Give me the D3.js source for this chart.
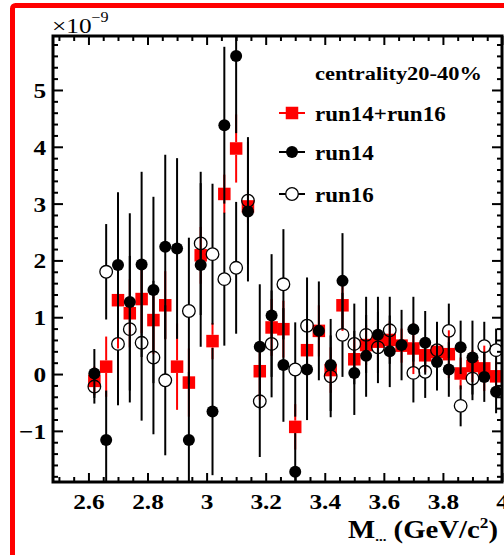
<!DOCTYPE html>
<html>
<head>
<meta charset="utf-8">
<script src="https://cdn.jsdelivr.net/npm/d3@7"></script>
<style>
  body { margin: 0; background: #fff; }
  text { font-family: "Liberation Serif", "Times New Roman", serif; }
</style>
</head>
<body>
<svg id="chart" width="504" height="555"></svg>
<script>
// Invariant-mass bins (GeV/c^2), bin width 0.04
const mass = [2.62, 2.66, 2.70, 2.74, 2.78, 2.82, 2.86, 2.90, 2.94, 2.98,
              3.02, 3.06, 3.10, 3.14, 3.18, 3.22, 3.26, 3.30, 3.34, 3.38,
              3.42, 3.46, 3.50, 3.54, 3.58, 3.62, 3.66, 3.70, 3.74, 3.78,
              3.82, 3.86, 3.90, 3.94, 3.98];

// run14+run16 combined (units of 1e-9)
const comboVal = [-0.12, 0.13, 1.30, 1.07, 1.32, 0.95, 1.21, 0.13, -0.15, 2.09,
                  0.58, 3.17, 3.97, 2.95, 0.05, 0.82, 0.79, -0.93, 0.42, 0.76,
                  0.07, 1.21, 0.26, 0.51, 0.57, 0.60, 0.50, 0.45, 0.33, 0.39,
                  0.35, 0.01, 0.14, 0.10, -0.04];
const comboErr = [0.25, 0.53, 0.85, 0.60, 0.60, 0.60, 0.60, 0.76, 0.60, 0.50,
                  0.32, 0.34, 0.60, 0.30, 0.50, 0.50, 0.50, 0.40, 0.45, 0.45,
                  0.40, 0.45, 0.35, 0.35, 0.33, 0.33, 0.30, 0.45, 0.30, 0.30,
                  0.42, 0.28, 0.28, 0.40, 0.28];

// run14
const run14Val = [0.01, -1.16, 1.92, 1.27, 1.93, 1.48, 2.24, 2.21, -1.16, 1.92,
                  -0.66, 4.38, 5.60, 2.86, 0.48, 1.03, 0.16, -1.72, 0.08, 0.76,
                  0.16, 1.64, 0.02, 0.32, 0.69, 0.40, 0.51, 0.79, 0.55, 0.21,
                  0.08, 0.47, 0.29, -0.05, -0.31];
const run14Err = [0.43, 0.87, 1.28, 1.56, 1.63, 1.64, 1.62, 1.59, 1.20, 1.44,
                  1.12, 1.38, 1.36, 1.23, 1.10, 1.08, 1.00, 0.68, 0.89, 0.87,
                  0.81, 0.84, 0.74, 0.72, 0.67, 0.63, 0.62, 0.57, 0.56, 0.50,
                  0.48, 0.47, 0.65, 0.44, 0.38];

// run16 (null where the point sits under the run14 marker)
const run16Val = [-0.22, 1.80, 0.53, 0.79, 0.55, 0.29, -0.11, null, 1.11, 2.30,
                  2.11, 1.67, 1.87, 3.05, -0.48, 0.53, 1.58, 0.08, 0.85, null,
                  -0.04, 0.69, 0.53, 0.69, 0.47, 0.77, null, 0.02, 0.04, 0.42,
                  0.76, -0.56, -0.08, 0.49, 0.42];
const run16Err = [0.30, 0.84, 1.08, 1.29, 1.37, 1.35, 1.32, null, 1.29, 1.26,
                  1.24, 1.17, 1.16, 1.12, 0.98, 0.94, 0.97, 0.83, 0.85, null,
                  0.72, 0.74, 0.71, 0.67, 0.63, 0.59, null, 0.52, 0.46, 0.50,
                  0.48, 0.36, 0.38, 0.43, 0.38];

const xTickValues = [2.6, 2.8, 3.0, 3.2, 3.4, 3.6, 3.8, 4.0];
const yTickValues = [-1, 0, 1, 2, 3, 4, 5];
const legendTitle = "centrality20-40%";
const legendLabels = ["run14+run16", "run14", "run16"];

const svg = d3.select("#chart");
const SX = 1.15; // horizontal text stretch

// outer red frame
svg.append("rect")
  .attr("x", 12.5).attr("y", 5.5).attr("width", 620).attr("height", 620).attr("rx", 3)
  .attr("fill", "#fff").attr("stroke", "#ff0000").attr("stroke-width", 5);

const L = 53, R = 502, T = 36, B = 482;
const x = d3.scaleLinear().domain([2.48, 4.0]).range([L, R]);
const y = d3.scaleLinear().domain([-1.9, 5.95]).range([B, T]);

const xMinor = d3.range(2.50, 4.0001, 0.05).filter(v => Math.abs(Math.round(v * 5) - v * 5) > 1e-6);
const yMinor = d3.range(-1.8, 5.9, 0.2).filter(v => Math.abs(Math.round(v) - v) > 1e-6);

function styleAxis(g) {
  g.select(".domain").remove();
  g.selectAll(".tick line").attr("stroke", "#000").attr("stroke-width", 2);
}

// minor ticks on all four sides
svg.append("g").attr("transform", `translate(0,${B})`)
  .call(d3.axisBottom(x).tickValues(xMinor).tickSize(-5).tickFormat(""))
  .call(styleAxis);
svg.append("g").attr("transform", `translate(0,${T})`)
  .call(d3.axisTop(x).tickValues(xMinor).tickSize(-5).tickFormat(""))
  .call(styleAxis);
svg.append("g").attr("transform", `translate(${L},0)`)
  .call(d3.axisLeft(y).tickValues(yMinor).tickSize(-5).tickFormat(""))
  .call(styleAxis);
svg.append("g").attr("transform", `translate(${R},0)`)
  .call(d3.axisRight(y).tickValues(yMinor).tickSize(-5).tickFormat(""))
  .call(styleAxis);

// major ticks
const fmtX = d => (Math.round(d * 10) / 10).toString();
const gx = svg.append("g").attr("transform", `translate(0,${B})`)
  .call(d3.axisBottom(x).tickValues(xTickValues).tickSize(-9).tickPadding(11).tickFormat(fmtX))
  .call(styleAxis);
gx.selectAll(".tick text")
  .attr("font-size", 22).attr("font-weight", "bold").attr("fill", "#000")
  .attr("font-family", "Liberation Serif")
  .attr("transform", `scale(${SX},1)`);
svg.append("g").attr("transform", `translate(0,${T})`)
  .call(d3.axisTop(x).tickValues(xTickValues).tickSize(-9).tickFormat(""))
  .call(styleAxis);

const fmtY = d => d < 0 ? "\u2212" + Math.abs(d) : String(d);
const gy = svg.append("g").attr("transform", `translate(${L},0)`)
  .call(d3.axisLeft(y).tickValues(yTickValues).tickSize(-10).tickPadding(6).tickFormat(fmtY))
  .call(styleAxis);
gy.selectAll(".tick text")
  .attr("font-size", 22).attr("font-weight", "bold").attr("fill", "#000")
  .attr("font-family", "Liberation Serif")
  .attr("dy", "0.34em")
  .attr("transform", `scale(${SX},1)`);
svg.append("g").attr("transform", `translate(${R},0)`)
  .call(d3.axisRight(y).tickValues(yTickValues).tickSize(-10).tickFormat(""))
  .call(styleAxis);

// plot clip
svg.append("defs").append("clipPath").attr("id", "plotClip")
  .append("rect").attr("x", L).attr("y", T).attr("width", R - L).attr("height", B - T);
const plot = svg.append("g").attr("clip-path", "url(#plotClip)");

// error bars leave a gap where the point's own marker sits
function errorBars(g, vals, errs, color, width, gap) {
  mass.forEach((m, i) => {
    const v = vals[i];
    if (v === null) return;
    const e = errs[i];
    const cx = x(m), cy = y(v), top = y(v + e), bot = y(v - e);
    if (cy - gap > top)
      g.append("line").attr("x1", cx).attr("x2", cx).attr("y1", top).attr("y2", cy - gap)
        .attr("stroke", color).attr("stroke-width", width);
    if (cy + gap < bot)
      g.append("line").attr("x1", cx).attr("x2", cx).attr("y1", cy + gap).attr("y2", bot)
        .attr("stroke", color).attr("stroke-width", width);
  });
}

const SQ = 12.5, RC = 6, RO = 6.3;
const idx = d3.range(mass.length);

// run14+run16: red squares
const gCombo = plot.append("g");
errorBars(gCombo, comboVal, comboErr, "#ff0000", 2, SQ / 2);
gCombo.selectAll("rect").data(idx).join("rect")
  .attr("x", i => x(mass[i]) - SQ / 2).attr("y", i => y(comboVal[i]) - SQ / 2)
  .attr("width", SQ).attr("height", SQ).attr("fill", "#ff0000");

// run16: open circles
const gRun16 = plot.append("g");
errorBars(gRun16, run16Val, run16Err, "#000", 2, RO);
gRun16.selectAll("circle").data(idx.filter(i => run16Val[i] !== null)).join("circle")
  .attr("cx", i => x(mass[i])).attr("cy", i => y(run16Val[i])).attr("r", RO)
  .attr("fill", "none").attr("stroke", "#000").attr("stroke-width", 1.3);

// run14: filled black circles
const gRun14 = plot.append("g");
errorBars(gRun14, run14Val, run14Err, "#000", 2, 0);
gRun14.selectAll("circle").data(idx).join("circle")
  .attr("cx", i => x(mass[i])).attr("cy", i => y(run14Val[i])).attr("r", RC)
  .attr("fill", "#000");

// frame
svg.append("rect").attr("x", L).attr("y", T).attr("width", R - L).attr("height", B - T)
  .attr("fill", "none").attr("stroke", "#000").attr("stroke-width", 3);

// exponent label
const expo = svg.append("text").attr("transform", `translate(52,33) scale(${SX},1)`)
  .attr("font-size", 22).attr("fill", "#000");
expo.append("tspan").text("\u00d710");
expo.append("tspan").attr("font-size", 14).attr("dy", -11).text("\u22129");

// axis title
const title = svg.append("text").attr("transform", `translate(498,538) scale(${SX},1)`)
  .attr("text-anchor", "end").attr("font-size", 25).attr("font-weight", "bold").attr("fill", "#000");
title.append("tspan").text("M");
title.append("tspan").attr("font-size", 13).attr("dy", 3).text("...");
title.append("tspan").attr("dy", -3).text(" (GeV/c");
title.append("tspan").attr("font-size", 15).attr("dy", -10).text("2");
title.append("tspan").attr("dy", 10).text(")");

// legend
const leg = svg.append("g");
leg.append("text").attr("transform", `translate(315,80) scale(${SX},1)`)
  .attr("font-size", 19.5).attr("font-weight", "bold").attr("fill", "#000").text(legendTitle);
const legY = [113, 152, 194];
const legX = 292;
legendLabels.forEach((lab, k) => {
  const ly = legY[k];
  const col = k === 0 ? "#ff0000" : "#000";
  leg.append("line").attr("x1", 279).attr("x2", 305).attr("y1", ly).attr("y2", ly)
    .attr("stroke", col).attr("stroke-width", 2);
  if (k === 0) {
    leg.append("rect").attr("x", legX - SQ / 2).attr("y", ly - SQ / 2).attr("width", SQ).attr("height", SQ).attr("fill", "#ff0000");
  } else if (k === 1) {
    leg.append("circle").attr("cx", legX).attr("cy", ly).attr("r", RC).attr("fill", "#000");
  } else {
    leg.append("circle").attr("cx", legX).attr("cy", ly).attr("r", RO).attr("fill", "#fff").attr("stroke", "#000").attr("stroke-width", 1.3);
  }
  leg.append("text").attr("transform", `translate(315,${ly + 8}) scale(${SX},1)`)
    .attr("font-size", 20).attr("font-weight", "bold").attr("fill", "#000").text(lab);
});
</script>
</body>
</html>
